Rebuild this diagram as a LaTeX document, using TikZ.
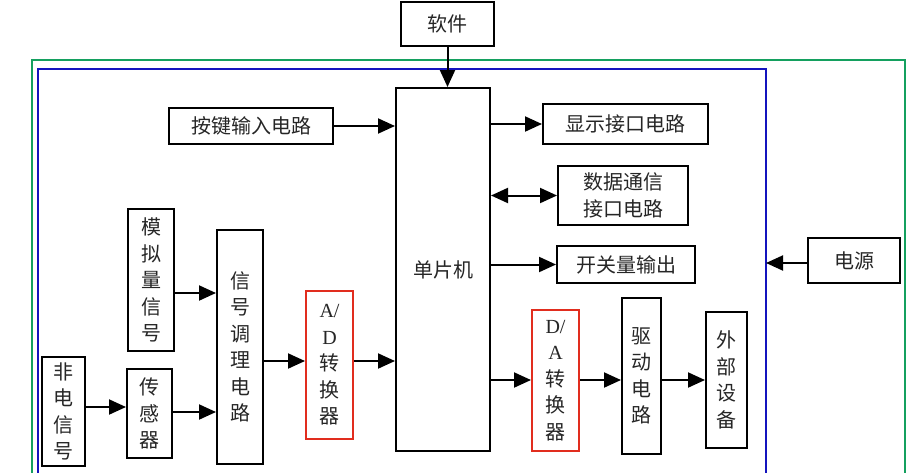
\documentclass[tikz,border=0pt]{standalone}
\usepackage{fontspec}
\setmainfont{Liberation Serif}
\newfontfamily\cjk{Noto Sans CJK SC}
\usetikzlibrary{arrows.meta}
\definecolor{frgreen}{RGB}{20,160,95}
\definecolor{frblue}{RGB}{20,20,190}
\definecolor{frred}{RGB}{225,45,30}
\tikzset{
  box/.style={draw=black, line width=2pt, fill=white, inner sep=0pt, align=center,
    font=\cjk\fontsize{20}{26.5}\selectfont, text=black!85},
  redbox/.style={box, draw=frred},
  arr/.style={line width=2pt, -{Triangle[length=17pt,width=15pt]}},
  darr/.style={line width=2pt, {Triangle[length=17pt,width=15pt]}-{Triangle[length=17pt,width=15pt]}},
}
\begin{document}
\begin{tikzpicture}[x=1pt,y=-1pt]
\clip (0,0) rectangle (917,472);
\fill[white] (0,0) rectangle (917,472);
% frames
\draw[frgreen, line width=2pt] (32,490) -- (32,60) -- (905,60) -- (905,490);
\draw[frblue, line width=2pt] (38,490) -- (38,69) -- (766,69) -- (766,490);
\coordinate (bluer) at (766,263);
% nodes
\node[box, minimum width=93pt, minimum height=44pt] (sw) at (447.5,24) {软件};
\node[box, minimum width=94pt, minimum height=363pt] (mcu) at (443,269.5) {单片机};
\node[box, minimum width=164pt, minimum height=36pt] (aj) at (251,126) {按键输入电路};
\node[box, minimum width=165pt, minimum height=40pt] (xs) at (625.5,124) {显示接口电路};
\node[box, minimum width=130pt, minimum height=59pt] (sj) at (623,195.5) {数据通信\\接口电路};
\node[box, minimum width=138pt, minimum height=37pt] (kg) at (626,264.5) {开关量输出};
\node[box, minimum width=92pt, minimum height=45pt] (dy) at (854,260.5) {电源};
\node[redbox, minimum width=47pt, minimum height=141pt] (da) at (555.5,380.5) {{\rmfamily D/}\\{\rmfamily A}\\转\\换\\器};
\node[box, minimum width=39pt, minimum height=156pt] (qd) at (641.5,376) {驱\\动\\电\\路};
\node[box, minimum width=41pt, minimum height=136pt] (wb) at (726.5,380) {外\\部\\设\\备};
\node[box, minimum width=46pt, minimum height=142pt] (mn) at (151,280) {模\\拟\\量\\信\\号};
\node[box, minimum width=46pt, minimum height=234pt] (tl) at (240,347) {信\\号\\调\\理\\电\\路};
\node[redbox, minimum width=47pt, minimum height=148pt] (ad) at (329.5,365) {{\rmfamily A/}\\{\rmfamily D}\\转\\换\\器};
\node[box, minimum width=43pt, minimum height=109pt] (fd) at (63.5,411.5) {非\\电\\信\\号};
\node[box, minimum width=45pt, minimum height=89pt] (cg) at (149.5,413.5) {传\\感\\器};
% connectors
\draw[arr] (sw.south) -- (sw.south |- mcu.north);
\draw[arr] (aj.east) -- (aj.east -| mcu.west);
\draw[arr] (xs.west -| mcu.east) -- (xs.west);
\draw[darr] (sj.west -| mcu.east) -- (sj.west);
\draw[arr] (kg.west -| mcu.east) -- (kg.west);
\draw[arr] (dy.west |- bluer) -- (bluer);
\draw[arr] (mn.east |- 0,293) -- (tl.west |- 0,293);
\draw[arr] (fd.east |- 0,407) -- (cg.west |- 0,407);
\draw[arr] (cg.east |- 0,412) -- (tl.west |- 0,412);
\draw[arr] (tl.east |- 0,361) -- (ad.west |- 0,361);
\draw[arr] (ad.east |- 0,361) -- (mcu.west |- 0,361);
\draw[arr] (mcu.east |- 0,380) -- (da.west |- 0,380);
\draw[arr] (da.east |- 0,380) -- (qd.west |- 0,380);
\draw[arr] (qd.east |- 0,380) -- (wb.west |- 0,380);
\end{tikzpicture}
\end{document}
